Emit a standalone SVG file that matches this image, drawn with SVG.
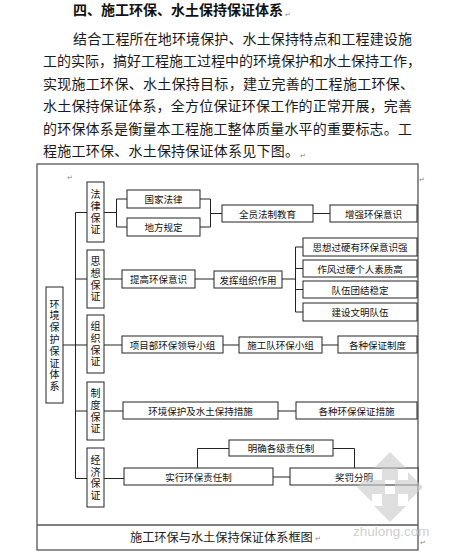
<svg xmlns="http://www.w3.org/2000/svg" width="453" height="560" viewBox="0 0 453 560">
<style>
.bg{fill:#fff}
.p{font-family:"Noto Sans CJK SC","Noto Sans CJK JP",sans-serif;font-size:14px;fill:#1a1a1a}
.h{font-family:"Noto Sans CJK SC","Noto Sans CJK JP",sans-serif;font-size:14px;font-weight:bold;fill:#111}
.box{fill:#fff;stroke:#222;stroke-width:1}
.t{font-family:"Noto Sans CJK SC","Noto Sans CJK JP",sans-serif;font-size:9.5px;fill:#111;text-anchor:middle;dominant-baseline:central}
.v{font-family:"Noto Sans CJK SC","Noto Sans CJK JP",sans-serif;font-size:10px;fill:#111;text-anchor:middle;writing-mode:vertical-rl;letter-spacing:1.7px}
.ln{fill:none;stroke:#222;stroke-width:1}
.frame{fill:none;stroke:#555;stroke-width:1.3}
.cap{font-family:"Noto Sans CJK SC","Noto Sans CJK JP",sans-serif;font-size:12.2px;fill:#222;dominant-baseline:central}
.pm{font-family:"DejaVu Sans",sans-serif;font-size:7px;fill:#888}
.wm{fill:#c8c8c8;opacity:0.6}
</style>
<rect class="bg" x="0" y="0" width="453" height="560"/>

<g id="heading">
<text class="h" x="73" y="15">四、施工环保、水土保持保证体系</text>
<text class="pm" x="285" y="17">↵</text>
</g>

<g id="paragraph">
<text class="p" x="73" y="43.5" textLength="339">结合工程所在地环境保护、水土保持特点和工程建设施</text>
<text class="p" x="43" y="66" textLength="378">工的实际，搞好工程施工过程中的环境保护和水土保持工作，</text>
<text class="p" x="43" y="88.5" textLength="371">实现施工环保、水土保持目标，建立完善的工程施工环保、</text>
<text class="p" x="43" y="111" textLength="369">水土保持保证体系，全方位保证环保工作的正常开展，完善</text>
<text class="p" x="43" y="133.5" textLength="369">的环保体系是衡量本工程施工整体质量水平的重要标志。工</text>
<text class="p" x="43" y="156" textLength="256">程施工环保、水土保持保证体系见下图。</text>
<text class="pm" x="300" y="158">↵</text>
</g>

<g id="frame">
<rect class="frame" x="37" y="164" width="381" height="386"/>
<line class="frame" x1="37" y1="525" x2="418" y2="525"/>
<text class="pm" x="67" y="180">↵</text>
<text class="pm" x="419" y="182">↵</text>
<text class="cap" x="130" y="537">施工环保与水土保持保证体系框图</text>
<text class="pm" x="315" y="541">↵</text>
<text class="pm" x="420" y="545">↵</text>
</g>

<g id="connectors">
<path class="ln" d="M75.5,212.5 V478.5"/>
<path class="ln" d="M75.5,212.5 H87"/>
<path class="ln" d="M75.5,279 H87"/>
<path class="ln" d="M63,345 H87"/>
<path class="ln" d="M75.5,411 H87"/>
<path class="ln" d="M75.5,478.5 H87"/>
<path class="ln" d="M104,212.5 H116.5 M116.5,199 V227 M116.5,199 H127 M116.5,227 H127"/>
<path class="ln" d="M200,199 H210.5 M200,227 H210.5 M210.5,199 V227 M210.5,213.5 H222"/>
<path class="ln" d="M313,213.5 H330"/>
<path class="ln" d="M104,279 H122 M195,279 H214 M282,279 H295.5"/>
<path class="ln" d="M295.5,247 V312 M295.5,247 H303 M295.5,268.5 H303 M295.5,289.5 H303 M295.5,312 H303"/>
<path class="ln" d="M104,345 H122 M223,345 H239 M322,345 H338"/>
<path class="ln" d="M104,411 H123 M278,411 H296"/>
<path class="ln" d="M104,478.5 H124 M273,477 H290"/>
<path class="ln" d="M197.5,468 V448.5 H229"/>
<path class="ln" d="M333,448.5 H354.5 V468"/>
</g>

<g id="n-root">
<rect class="box" x="46" y="287" width="17" height="116"/>
<text class="v" x="54.5" y="346" style="letter-spacing:1.8px">环境保护保证体系</text>
</g>

<g id="n-law">
<rect class="box" x="87" y="182" width="17" height="60"/>
<text class="v" x="95.5" y="213">法律保证</text>
</g>
<g id="n-thought">
<rect class="box" x="87" y="250" width="17" height="58"/>
<text class="v" x="95.5" y="280">思想保证</text>
</g>
<g id="n-org">
<rect class="box" x="87" y="315" width="17" height="58"/>
<text class="v" x="95.5" y="345">组织保证</text>
</g>
<g id="n-system">
<rect class="box" x="87" y="382" width="17" height="58"/>
<text class="v" x="95.5" y="412">制度保证</text>
</g>
<g id="n-econ">
<rect class="box" x="87" y="448" width="17" height="59"/>
<text class="v" x="95.5" y="478.5">经济保证</text>
</g>

<g id="n-national-law"><rect class="box" x="127" y="190" width="73" height="18"/><text class="t" x="163.5" y="199">国家法律</text></g>
<g id="n-local-rule"><rect class="box" x="127" y="218" width="73" height="18"/><text class="t" x="163.5" y="227">地方规定</text></g>
<g id="n-edu"><rect class="box" x="222" y="205" width="91" height="17"/><text class="t" x="267.5" y="213.5">全员法制教育</text></g>
<g id="n-aware"><rect class="box" x="330" y="205" width="87" height="17"/><text class="t" x="373.5" y="213.5">增强环保意识</text></g>

<g id="n-raise"><rect class="box" x="122" y="270" width="73" height="18"/><text class="t" x="158.5" y="279">提高环保意识</text></g>
<g id="n-play"><rect class="box" x="214" y="271" width="68" height="17"/><text class="t" x="248" y="279.5">发挥组织作用</text></g>
<g id="n-t1"><rect class="box" x="303" y="238" width="114" height="18"/><text class="t" x="360" y="247">思想过硬有环保意识强</text></g>
<g id="n-t2"><rect class="box" x="303" y="260" width="114" height="17"/><text class="t" x="360" y="268.5">作风过硬个人素质高</text></g>
<g id="n-t3"><rect class="box" x="303" y="281" width="114" height="17"/><text class="t" x="360" y="289.5">队伍团结稳定</text></g>
<g id="n-t4"><rect class="box" x="303" y="303" width="114" height="18"/><text class="t" x="360" y="312">建设文明队伍</text></g>

<g id="n-lead"><rect class="box" x="122" y="336" width="101" height="17"/><text class="t" x="172.5" y="344.5">项目部环保领导小组</text></g>
<g id="n-team"><rect class="box" x="239" y="337" width="83" height="16"/><text class="t" x="280.5" y="345">施工队环保小组</text></g>
<g id="n-rules"><rect class="box" x="338" y="336" width="79" height="17"/><text class="t" x="377.5" y="344.5">各种保证制度</text></g>

<g id="n-measures"><rect class="box" x="123" y="402" width="155" height="17"/><text class="t" x="200.5" y="410.5">环境保护及水土保持措施</text></g>
<g id="n-guarantee"><rect class="box" x="296" y="402" width="121" height="17"/><text class="t" x="356.5" y="410.5">各种环保保证措施</text></g>

<g id="n-resp"><rect class="box" x="124" y="468" width="149" height="17"/><text class="t" x="198.5" y="476.5">实行环保责任制</text></g>
<g id="n-levels"><rect class="box" x="229" y="440" width="104" height="16"/><text class="t" x="281" y="448">明确各级责任制</text></g>
<g id="n-reward"><rect class="box" x="290" y="468" width="128" height="17"/><text class="t" x="354" y="476.5">奖罚分明</text></g>

<g id="watermark">
<polygon class="wm" points="390,452 406,468 398,468 398,480 382,480 382,468 374,468"/>
<polygon class="wm" points="390,522 406,506 398,506 398,494 382,494 382,506 374,506"/>
<polygon class="wm" points="357,487 372,472 372,480 385,480 385,494 372,494 372,502"/>
<polygon class="wm" points="423,487 408,472 408,480 395,480 395,494 408,494 408,502"/>
<text x="353" y="536" style="font-family:'Liberation Sans',sans-serif;font-size:13.5px;fill:#cfcfcf">zhulong.com</text>
</g>
</svg>
